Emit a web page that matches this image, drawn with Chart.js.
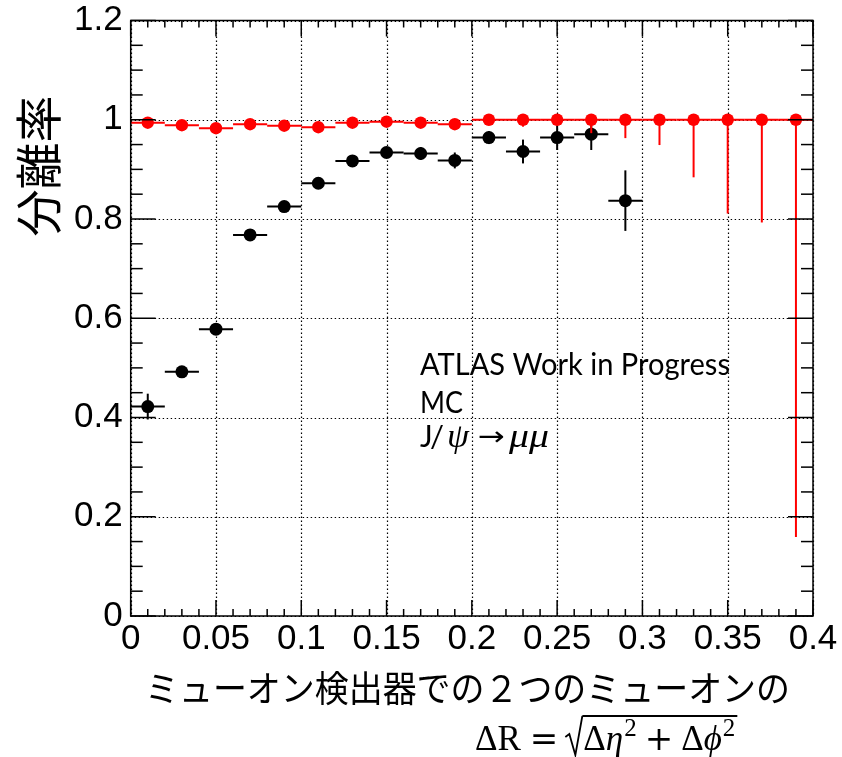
<!DOCTYPE html>
<html><head><meta charset="utf-8">
<script src="https://cdn.jsdelivr.net/npm/chart.js@4.4.0/dist/chart.umd.min.js"></script>
<style>html,body{margin:0;padding:0;background:#fff;}#wrap{width:842px;height:757px;}</style>
</head><body><div id="wrap"><canvas id="c" width="842" height="757"></canvas></div>
<script>
// ---- data ----
const binCenters = [0.01,0.03,0.05,0.07,0.09,0.11,0.13,0.15,0.17,0.19,0.21,0.23,0.25,0.27,0.29,0.31,0.33,0.35,0.37,0.39];
const binHalfWidth = 0.01;
const blackValues = [0.422,0.492,0.578,0.768,0.825,0.872,0.917,0.934,0.932,0.918,0.964,0.936,0.964,0.971,0.837];
const blackErrors = [0.026,0.006,0.006,0.005,0.006,0.007,0.008,0.010,0.013,0.016,0.013,0.024,0.025,0.032,0.061];
const redValues = [0.994,0.989,0.983,0.991,0.988,0.985,0.994,0.996,0.994,0.991,1,1,1,1,1,1,1,1,1,1];
const redErrLow = [0.003,0.003,0.004,0.003,0.003,0.004,0.003,0.002,0.003,0.003,0.002,0.014,0.004,0.027,0.037,0.051,0.116,0.189,0.207,0.841];
const redErrHigh = [0.003,0.003,0.004,0.003,0.003,0.004,0.003,0.002,0.003,0.003,0,0,0,0,0,0,0,0,0,0];
const xTickLabels = ['0','0.05','0.1','0.15','0.2','0.25','0.3','0.35','0.4'];
const yTickLabels = ['0','0.2','0.4','0.6','0.8','1','1.2'];

const pts = (vals) => vals.map((v,i)=>({x:binCenters[i], y:v}));

const errInfo = {
  red: {low: redErrLow, high: redErrHigh, color:'#ff0000'},
  black: {low: blackErrors, high: blackErrors, color:'#000000'}
};

const rootPlugin = {
  id: 'rootPlugin',
  beforeDatasetsDraw(chart){
    const {ctx, chartArea:a, scales:{x,y}} = chart;
    ctx.save();
    ctx.strokeStyle = '#000';
    ctx.lineWidth = 1.2;
    ctx.setLineDash([1.4,2.6]);
    x.ticks.forEach(t=>{
      const px = Math.round(x.getPixelForValue(t.value))+0.5;
      ctx.beginPath(); ctx.moveTo(px,a.top); ctx.lineTo(px,a.bottom); ctx.stroke();
    });
    y.ticks.forEach(t=>{
      const py = Math.round(y.getPixelForValue(t.value))+0.5;
      ctx.beginPath(); ctx.moveTo(a.left,py); ctx.lineTo(a.right,py); ctx.stroke();
    });
    ctx.restore();
  },
  beforeDatasetDraw(chart, args){
    const ds = chart.data.datasets[args.index];
    const info = errInfo[ds.key];
    if(!info) return;
    const {ctx, scales:{x,y}} = chart;
    ctx.save();
    ctx.strokeStyle = info.color;
    ctx.lineWidth = 2;
    ds.data.forEach((p,i)=>{
      const x0 = x.getPixelForValue(p.x - binHalfWidth);
      const x1 = x.getPixelForValue(p.x + binHalfWidth);
      const xc = x.getPixelForValue(p.x);
      const yc = y.getPixelForValue(p.y);
      ctx.beginPath(); ctx.moveTo(x0,yc); ctx.lineTo(x1,yc); ctx.stroke();
      const yl = y.getPixelForValue(p.y - info.low[i]);
      const yh = y.getPixelForValue(p.y + info.high[i]);
      ctx.beginPath(); ctx.moveTo(xc,yl); ctx.lineTo(xc,yh); ctx.stroke();
    });
    ctx.restore();
  },
  afterDraw(chart){
    const {ctx, chartArea:a, scales:{x,y}} = chart;
    ctx.save();
    ctx.strokeStyle = '#000';
    ctx.lineWidth = 1.5;
    ctx.strokeRect(a.left, a.top, a.right-a.left, a.bottom-a.top);
    const xt = x.ticks.map(t=>t.value);
    const yt = y.ticks.map(t=>t.value);
    const tick = (x1,y1,x2,y2)=>{ctx.beginPath();ctx.moveTo(x1,y1);ctx.lineTo(x2,y2);ctx.stroke();};
    for(let i=0;i<xt.length;i++){
      const px = x.getPixelForValue(xt[i]);
      tick(px,a.bottom,px,a.bottom-16); tick(px,a.top,px,a.top+16);
      if(i<xt.length-1){
        for(let k=1;k<5;k++){
          const v = xt[i]+(xt[i+1]-xt[i])*k/5;
          const q = x.getPixelForValue(v);
          tick(q,a.bottom,q,a.bottom-7); tick(q,a.top,q,a.top+7);
        }
      }
    }
    for(let i=0;i<yt.length;i++){
      const py = y.getPixelForValue(yt[i]);
      tick(a.left,py,a.left+25,py); tick(a.right,py,a.right-25,py);
      if(i<yt.length-1){
        for(let k=1;k<4;k++){
          const v = yt[i]+(yt[i+1]-yt[i])*k/4;
          const q = y.getPixelForValue(v);
          tick(a.left,q,a.left+12,q); tick(a.right,q,a.right-12,q);
        }
      }
    }
    // y title
    ctx.fillStyle = '#000';
    ctx.save();
    ctx.translate(38, 166);
    ctx.rotate(-Math.PI/2);
    ctx.font = '47px "Noto Sans CJK JP"';
    ctx.textAlign = 'center'; ctx.textBaseline = 'middle';
    ctx.fillText('分離率', 0, 0);
    ctx.restore();
    const fitText = (txt, left, base, width, font) => {
      ctx.save();
      ctx.font = font; ctx.textAlign='left'; ctx.textBaseline='alphabetic';
      const w = ctx.measureText(txt).width;
      ctx.translate(left, base); ctx.scale(width/w, 1);
      ctx.fillText(txt, 0, 0);
      ctx.restore();
    };
    // x title line 1
    fitText('ミューオン検出器での２つのミューオンの', 145, 702, 645, '36px "Noto Sans CJK JP"');
    // formula
    ctx.save();
    ctx.textBaseline='alphabetic'; ctx.textAlign='left';
    let cx = 475; const base = 750;
    const put = (t, font, dy=0) => { ctx.font = font; ctx.fillText(t, cx, base+dy); cx += ctx.measureText(t).width; };
    const up = '35px "Liberation Serif"', it = 'italic 35px "Liberation Serif"', sup = '25px "Liberation Serif"';
    put('ΔR', up); cx += 9;
    put('=', '34px "DejaVu Serif"'); cx += 7;
    const sqrtX = cx;
    ctx.lineWidth = 1.8;
    ctx.beginPath();
    ctx.moveTo(sqrtX, base-13); ctx.lineTo(sqrtX+4, base-16); ctx.lineTo(sqrtX+10, base+5); ctx.lineTo(sqrtX+17, base-34); ctx.stroke();
    cx = sqrtX + 18;
    put('Δ', up); put('η', it); cx += 1; put('2', sup, -14); cx += 8;
    put('+', '34px "DejaVu Serif"'); cx += 8;
    put('Δ', up); put('ϕ', it); cx += 1; put('2', sup, -14);
    ctx.beginPath(); ctx.moveTo(sqrtX+17, base-34); ctx.lineTo(cx+2, base-34); ctx.stroke();
    ctx.restore();
    // annotation
    fitText('ATLAS Work in Progress', 420, 375, 310, '30px Lato');
    fitText('MC', 420, 413, 43, '30px Lato');
    const b2 = 447;
    ctx.save();
    ctx.textBaseline='alphabetic'; ctx.textAlign='left';
    ctx.font = '30px Lato'; ctx.fillText('J', 420, b2);
    ctx.restore();
    fitText('/', 431, b2+2, 12, '36px "Liberation Serif"');
    fitText('ψ', 447, b2, 22, 'italic 33px "Liberation Serif"');
    fitText('→', 478, b2-2, 27, '26px "DejaVu Sans"');
    fitText('μμ', 509, b2, 40, 'italic 33px "Liberation Serif"');
    ctx.restore();
  }
};

new Chart(document.getElementById('c'), {
  type: 'scatter',
  data: {
    datasets: [
      {key:'red', data: pts(redValues), pointRadius: 6.2, pointHoverRadius: 6.2, backgroundColor:'#ff0000', borderWidth:0, showLine:false},
      {key:'black', data: pts(blackValues), pointRadius: 6.5, pointHoverRadius: 6.5, backgroundColor:'#000000', borderWidth:0, showLine:false}
    ]
  },
  options: {
    responsive: false,
    devicePixelRatio: 1,
    animation: false,
    events: [],
    layout: {padding: {left: 0, right: 29, top: 20.5, bottom: 0}},
    plugins: {legend:{display:false}, tooltip:{enabled:false}, title:{display:false}},
    scales: {
      x: {
        type:'linear', min:0, max:0.4,
        grid:{display:false, drawTicks:false},
        border:{display:false},
        ticks:{stepSize:0.05, autoSkip:false, maxRotation:0, padding:6, color:'#000',
          font:{family:'"Liberation Sans", Arial, sans-serif', size:35, lineHeight:1},
          callback:(v,i)=>xTickLabels[i]},
        afterFit:(s)=>{s.height = 141; s.paddingLeft = 0; s.paddingRight = 0;}
      },
      y: {
        type:'linear', min:0, max:1.2,
        grid:{display:false, drawTicks:false},
        border:{display:false},
        ticks:{stepSize:0.2, autoSkip:false, padding:8, color:'#000',
          font:{family:'"Liberation Sans", Arial, sans-serif', size:35, lineHeight:1},
          callback:(v,i)=>yTickLabels[i]},
        afterFit:(s)=>{s.width = 130.7; s.paddingTop = 0; s.paddingBottom = 0;}
      }
    }
  },
  plugins: [rootPlugin]
});
</script>
</body></html>
